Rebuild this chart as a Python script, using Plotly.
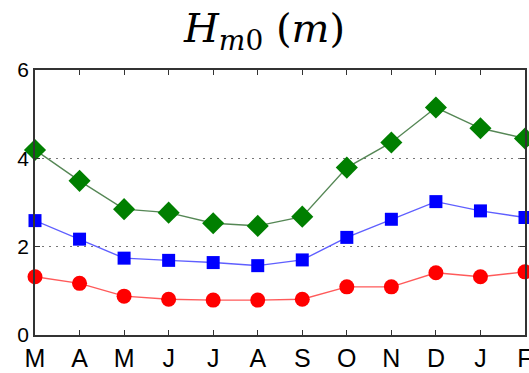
import plotly.graph_objects as go

# Monthly significant wave height, March through February
months = ["M", "A", "M", "J", "J", "A", "S", "O", "N", "D", "J", "F"]
h_upper = [4.19, 3.49, 2.85, 2.77, 2.53, 2.47, 2.68, 3.79, 4.36, 5.15, 4.68, 4.45]
h_mean = [2.59, 2.17, 1.74, 1.69, 1.64, 1.57, 1.70, 2.21, 2.62, 3.02, 2.81, 2.66]
h_lower = [1.32, 1.17, 0.88, 0.81, 0.79, 0.79, 0.81, 1.09, 1.09, 1.41, 1.32, 1.43]

x = list(range(len(months)))

fig = go.Figure()

series = [
    (h_upper, "#007f00", "rgb(85,135,85)", "diamond", 17),
    (h_mean, "#0000ff", "rgb(95,95,255)", "square", 13),
    (h_lower, "#ff0000", "rgb(255,90,90)", "circle", 15),
]
for vals, mcol, lcol, sym, size in series:
    fig.add_trace(go.Scatter(
        x=x, y=vals, mode="lines+markers",
        line=dict(color=lcol, width=1.4),
        marker=dict(symbol=sym, size=size, color=mcol, line=dict(width=0)),
        cliponaxis=False, showlegend=False,
    ))

fig.update_layout(
    width=529, height=373,
    margin=dict(l=35, r=4, t=70, b=38, autoexpand=False),
    paper_bgcolor="white", plot_bgcolor="white",
    title=dict(
        text="<i>H</i><sub><i>m</i>0</sub> (<i>m</i>)",
        x=0.5, xanchor="center", y=0.925, yanchor="middle",
        font=dict(family="DejaVu Serif", size=40, color="black"),
    ),
    xaxis=dict(
        range=[0, 11], tickvals=x, ticktext=months, automargin=False,
        showgrid=False, zeroline=False,
        showline=True, linecolor="#333333", linewidth=1.5, mirror="ticks",
        ticks="inside", ticklen=5, tickcolor="#333333",
        ticklabeloverflow="allow",
        tickfont=dict(family="Liberation Sans", size=25, color="black"),
    ),
    yaxis=dict(
        range=[0, 6], tickvals=[0, 2, 4, 6], automargin=False,
        showgrid=True, gridcolor="#777777", griddash="2px,5px", gridwidth=1.2,
        zeroline=False,
        showline=True, linecolor="#333333", linewidth=1.5, mirror="ticks",
        ticks="inside", ticklen=5, tickcolor="#333333",
        tickfont=dict(family="Liberation Sans", size=21, color="black"),
    ),
)

fig.write_html("out.html")
